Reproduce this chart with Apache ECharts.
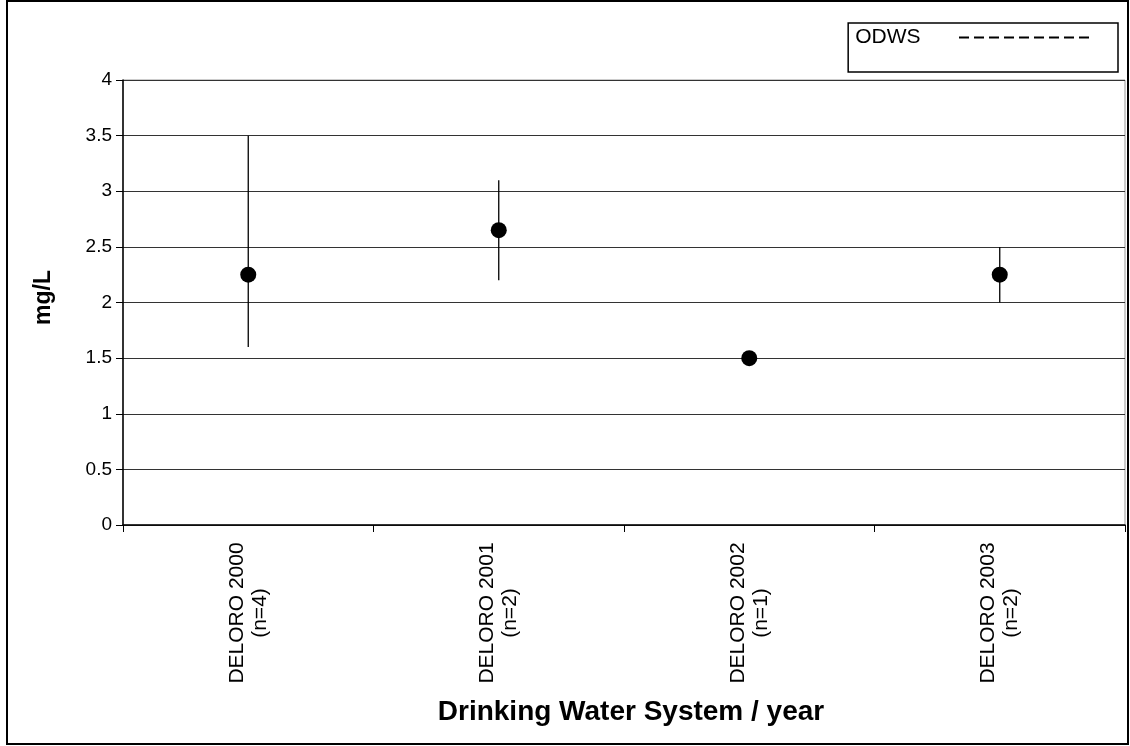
<!DOCTYPE html>
<html>
<head>
<meta charset="utf-8">
<script src="https://cdn.jsdelivr.net/npm/echarts@6/dist/echarts.min.js"></script>
<style>html,body{margin:0;padding:0;background:#fff}#c{width:1130px;height:746px}</style>
</head>
<body>
<div id="c"></div>
<script>
var categories = ['DELORO 2000\n(n=4)', 'DELORO 2001\n(n=2)', 'DELORO 2002\n(n=1)', 'DELORO 2003\n(n=2)'];
var means = [2.25, 2.65, 1.5, 2.25];
var mins = [1.6, 2.2, 1.5, 2.0];
var maxs = [3.5, 3.1, 1.5, 2.5];
var yTicks = [0, 0.5, 1, 1.5, 2, 2.5, 3, 3.5, 4];

var FONT = 'Liberation Sans, Arial, sans-serif';
var CAT_FS = 21;
var cv = document.createElement('canvas').getContext('2d');
cv.font = CAT_FS + 'px ' + FONT;
var catW = Math.ceil(cv.measureText('DELORO 2000').width) + 2;

// dashed legend icon: 9 dashes of 10 with gaps of 5
var dashPath = 'path://';
for (var k = 0; k < 9; k++) { dashPath += 'M' + (k * 15) + ',0h10v2h-10z'; }

var chart = echarts.init(document.getElementById('c'));
chart.setOption({
  animation: false,
  backgroundColor: '#fff',
  graphic: [{
    type: 'rect', shape: {x: 7, y: 1, width: 1121, height: 743},
    style: {fill: 'none', stroke: '#000', lineWidth: 2}, silent: true, z: -1
  }],
  legend: {
    right: 12, top: 23,
    align: 'right',
    itemWidth: 133, itemHeight: 2,
    borderColor: '#000', borderWidth: 1.5,
    padding: [4, 29, 24, 7],
    textStyle: {fontFamily: FONT, fontSize: 21, color: '#000', padding: [0, 32, 0, 0]},
    data: [{name: 'ODWS', icon: dashPath, itemStyle: {color: '#000'}}]
  },
  grid: {left: 123, right: 5, top: 80, bottom: 221, show: true, borderColor: '#999', borderWidth: 1},
  xAxis: {
    type: 'category', data: categories, boundaryGap: true,
    name: 'Drinking Water System / year', nameLocation: 'middle', nameGap: 173,
    nameTextStyle: {fontFamily: FONT, fontSize: 28, fontWeight: 'bold', color: '#000', padding: [0, 0, 0, 14]},
    axisLine: {lineStyle: {color: '#000', width: 1.5}},
    axisTick: {show: true, length: 7, lineStyle: {color: '#000'}},
    axisLabel: {
      rotate: 90, margin: 16, color: '#000', fontFamily: FONT, fontSize: CAT_FS,
      formatter: function (v) {
        var p = v.split('\n');
        return '{a|' + p[0] + '}\n{a|' + p[1] + '}';
      },
      rich: {a: {width: catW, align: 'center', fontFamily: FONT, fontSize: CAT_FS, color: '#000', lineHeight: 23}}
    }
  },
  yAxis: {
    type: 'value', min: 0, max: 4, interval: 0.5,
    name: 'mg/L', nameLocation: 'middle', nameGap: 68, nameRotate: 90,
    nameTextStyle: {fontFamily: FONT, fontSize: 23, fontWeight: 'bold', color: '#000', padding: [0, 0, 0, 10]},
    axisLine: {show: true, lineStyle: {color: '#000', width: 1.5}},
    axisTick: {show: true, length: 7, lineStyle: {color: '#000'}},
    axisLabel: {
      margin: 11, color: '#000', fontFamily: FONT, fontSize: 19,
      formatter: function (v) { return yTicks.indexOf(v) >= 0 ? String(v) : ''; }
    },
    splitLine: {show: true, lineStyle: {color: '#333', width: 1}}
  },
  series: [
    {
      name: 'ODWS', type: 'line', data: [], symbol: 'none',
      lineStyle: {color: '#000', type: 'dashed', width: 2}, itemStyle: {color: '#000'}
    },
    {
      name: 'range', type: 'custom',
      data: categories.map(function (c, i) { return [i, mins[i], maxs[i]]; }),
      renderItem: function (params, api) {
        var lo = api.coord([api.value(0), api.value(1)]);
        var hi = api.coord([api.value(0), api.value(2)]);
        return {type: 'line', shape: {x1: lo[0], y1: lo[1], x2: hi[0], y2: hi[1]},
          style: {stroke: '#000', lineWidth: 1.3}};
      },
      z: 3
    },
    {
      name: 'mean', type: 'scatter', data: means, symbol: 'circle', symbolSize: 16,
      itemStyle: {color: '#000', opacity: 1}, z: 4
    }
  ]
});
</script>
</body>
</html>
